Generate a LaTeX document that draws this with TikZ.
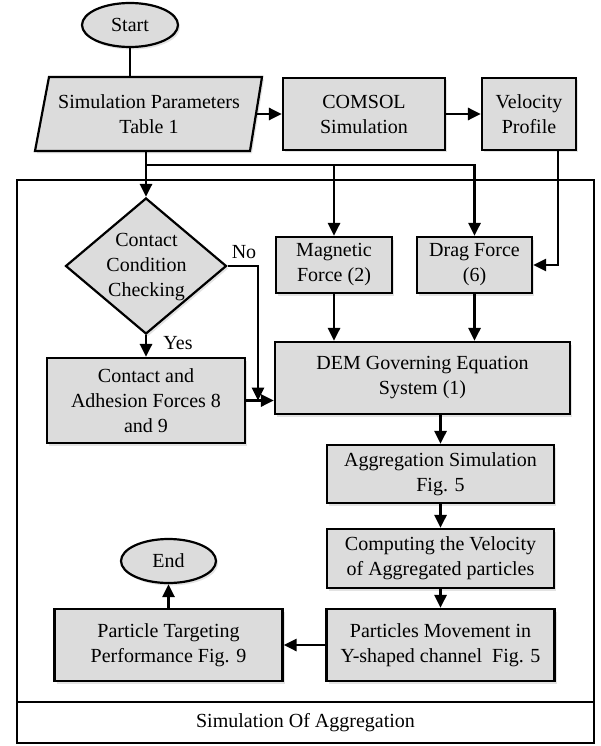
\documentclass[tikz,border=0pt]{standalone}
\usepackage{fontspec}
\setmainfont{Liberation Serif}
\usetikzlibrary{shapes.geometric,arrows.meta,shadows,calc}
\definecolor{boxfill}{RGB}{220,220,220}
\begin{document}
\begin{tikzpicture}[x=1pt,y=-1pt,
  every node/.style={font=\fontsize{20}{25}\selectfont},
  shad/.style={drop shadow={shadow xshift=2pt, shadow yshift=-2.5pt, opacity=0.22}},
  box/.style={draw, line width=2.2pt, fill=boxfill, rectangle, align=center, inner sep=0pt, shad},
  term/.style={draw, line width=2.2pt, fill=boxfill, ellipse, inner sep=0pt, shad},
  conn/.style={line width=2.8pt},
  arr/.style={line width=2.8pt, -{Triangle[length=13pt,width=12pt]}}
]
\useasboundingbox (0,0) rectangle (600,746);

% container
\draw[line width=2.2pt, fill=white] (17,180) rectangle (594,743);
\draw[line width=2.2pt] (17,702) -- (594,702);
\node (title) at (305.5,723) {Simulation Of Aggregation};

% top row
\node[term, minimum width=96pt, minimum height=44pt] (start) at (130,25) {Start};
\coordinate (pTL) at (49,77);
\coordinate (pTR) at (262,77);
\coordinate (pBR) at (250,151);
\coordinate (pBL) at (35,151);
\draw[line width=2.2pt, fill=boxfill, shad] (pTL) -- (pTR) -- (pBR) -- (pBL) -- cycle;
\node[align=center, minimum width=213pt, minimum height=74pt, inner sep=0pt] (params) at (149,114) {Simulation Parameters\\Table 1};
\node[box, minimum width=162pt, minimum height=72pt] (comsol) at (364,114) {COMSOL\\Simulation};
\node[box, minimum width=94pt, minimum height=72pt] (velo) at (529,114) {Velocity\\Profile};

% decision
\node[draw, line width=2.2pt, fill=boxfill, diamond, minimum width=161pt, minimum height=136pt, inner sep=0pt, shad] (dia) at (146,266) {};
\node[align=center, inner sep=0pt] (diatext) at (146.5,267) {Contact\\Condition\\Checking};
\node (no) at (244,252) {No};
\node (yes) at (178,343) {Yes};

% force boxes
\node[box, minimum width=116pt, minimum height=56pt] (mag) at (334,265) {Magnetic\\Force (2)};
\node[box, minimum width=115pt, minimum height=56pt] (drag) at (474.5,265) {Drag Force\\(6)};
\node[box, minimum width=295pt, minimum height=72pt] (dem) at (422.5,378) {DEM Governing Equation\\System (1)};
\node[box, minimum width=198pt, minimum height=85pt] (contact) at (146,400.5) {Contact and\\Adhesion Forces 8\\and 9};

% lower chain
\node[box, minimum width=227pt, minimum height=58pt] (agg) at (440.5,474) {Aggregation Simulation\\Fig. 5};
\node[box, minimum width=227pt, minimum height=59pt] (comp) at (440.5,558.5) {Computing the Velocity\\of Aggregated particles};
\node[box, minimum width=228pt, minimum height=72pt] (part) at (440.5,645) {Particles Movement in\\Y-shaped channel\ \ Fig. 5};
\node[box, minimum width=228pt, minimum height=72pt] (targ) at (168.5,645) {Particle Targeting\\Performance Fig. 9};
\node[term, minimum width=95pt, minimum height=44pt] (end) at (168.5,561) {End};

% connectors
\draw[conn] (start.south) -- (start.south |- params.north);
\draw[arr] (params.east) -- (params.east -| comsol.west);
\draw[arr] (comsol.east) -- (velo.west);
\coordinate (pout) at (146,151);
\coordinate (split) at (146,165);
\draw[arr] (pout) -- (dia.north);
\draw[arr] (split) -| (drag.north);
\draw[arr] (split -| mag.north) -- (mag.north);
\coordinate (vout) at (558,150);
\draw[arr] (vout) |- (drag.east);
\coordinate (jn) at (258,400.5);
\draw[arr] (dia.east) -| (jn);
\draw[arr] (contact.east) -- (contact.east -| dem.west);
\draw[arr] (dia.south) -- (contact.north);
\draw[arr] (mag.south) -- (mag.south |- dem.north);
\draw[arr] (drag.south) -- (drag.south |- dem.north);
\draw[arr] (agg.north |- dem.south) -- (agg.north);
\draw[arr] (agg.south) -- (comp.north);
\draw[arr] (comp.south) -- (part.north);
\draw[arr] (part.west) -- (part.west -| targ.east);
\draw[arr] (targ.north) -- (end.south);
\end{tikzpicture}
\end{document}
